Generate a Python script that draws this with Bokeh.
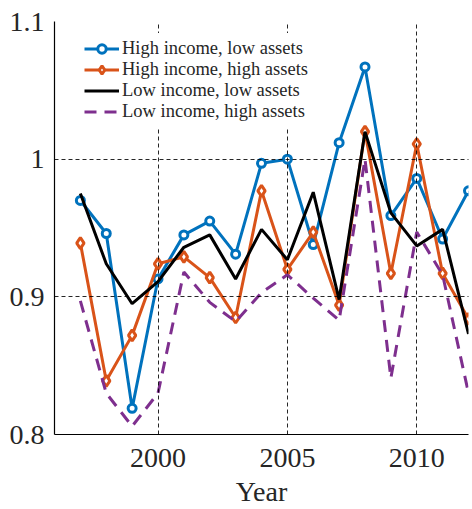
from bokeh.plotting import figure
from bokeh.models import Legend, LegendItem, FixedTicker, Range1d
from bokeh.embed import file_html
from bokeh.resources import INLINE

years = list(range(1997, 2013))
high_inc_low_assets = [0.970, 0.946, 0.819, 0.913, 0.945, 0.955, 0.931, 0.997, 1.000,
                       0.938, 1.012, 1.067, 0.959, 0.986, 0.942, 0.977]
high_inc_high_assets = [0.939, 0.839, 0.872, 0.924, 0.929, 0.914, 0.885, 0.977, 0.920,
                        0.947, 0.894, 1.020, 0.917, 1.011, 0.917, 0.884]
low_inc_low_assets = [0.975, 0.924, 0.895, 0.911, 0.936, 0.945, 0.913, 0.949, 0.927,
                      0.976, 0.898, 1.020, 0.961, 0.937, 0.949, 0.873]
low_inc_high_assets = [0.897, 0.830, 0.806, 0.830, 0.918, 0.896, 0.882, 0.903, 0.916,
                       0.899, 0.883, 1.000, 0.841, 0.947, 0.916, 0.830]

labels = ["High income, low assets", "High income, high assets",
          "Low income, low assets", "Low income, high assets"]
x_ticks = [2000, 2005, 2010]
y_ticks = [0.8, 0.9, 1.0, 1.1]
y_tick_labels = ["0.8", "0.9", "1", "1.1"]
x_label = "Year"

FONT = "Liberation Serif"
BLUE = "#0072BD"
ORANGE = "#D95319"
PURPLE = "#7E2F8E"
TXT = "#262626"

p = figure(width=472, height=509, output_backend="svg", toolbar_location=None,
           x_range=Range1d(1996, 2012), y_range=Range1d(0.8, 1.1),
           min_border_left=54, min_border_right=4, min_border_top=21, min_border_bottom=74)
p.outline_line_color = None
p.background_fill_color = "white"

r_b = p.line(years, high_inc_low_assets, line_color=BLUE, line_width=3)
r_bm = p.scatter(years, high_inc_low_assets, marker="circle", size=8,
                 line_color=BLUE, line_width=3, fill_color="white", fill_alpha=1)
r_o = p.line(years, high_inc_high_assets, line_color=ORANGE, line_width=3)
r_om = p.scatter(years, high_inc_high_assets, marker="diamond", size=11,
                 line_color=ORANGE, line_width=3, fill_color="white", fill_alpha=1)
r_k = p.line(years, low_inc_low_assets, line_color="black", line_width=3)
r_p = p.line(years, low_inc_high_assets, line_color=PURPLE, line_width=3, line_dash="12 8")

# grid
for g in (p.xgrid, p.ygrid):
    g.grid_line_color = "black"
    g.grid_line_width = 1
    g.grid_line_dash = "4 3"
    g.grid_line_alpha = 0.85
    g.level = "overlay"
p.xgrid.ticker = FixedTicker(ticks=x_ticks)
p.ygrid.ticker = FixedTicker(ticks=y_ticks)

# axes
p.xaxis.ticker = FixedTicker(ticks=x_ticks)
p.yaxis.ticker = FixedTicker(ticks=y_ticks)
p.yaxis.major_label_overrides = {v: s for v, s in zip(y_ticks, y_tick_labels)}
for ax in (p.xaxis[0], p.yaxis[0]):
    ax.axis_line_color = "black"
    ax.axis_line_width = 1.2
    ax.major_tick_in = 0
    ax.major_tick_out = 0
    ax.minor_tick_in = 0
    ax.minor_tick_out = 0
    ax.major_label_text_font = FONT
    ax.major_label_text_font_size = "28px"
    ax.major_label_text_color = TXT
p.xaxis.major_label_standoff = 14
p.yaxis.major_label_standoff = 10
p.xaxis.axis_label = x_label
p.xaxis.axis_label_text_font = FONT
p.xaxis.axis_label_text_font_size = "28px"
p.xaxis.axis_label_text_font_style = "normal"
p.xaxis.axis_label_text_color = TXT
p.xaxis.axis_label_standoff = 6

legend = Legend(items=[
    LegendItem(label=labels[0], renderers=[r_b, r_bm]),
    LegendItem(label=labels[1], renderers=[r_o, r_om]),
    LegendItem(label=labels[2], renderers=[r_k]),
    LegendItem(label=labels[3], renderers=[r_p]),
], location=(25, 307))
legend.label_text_font = FONT
legend.label_text_font_size = "18.5px"
legend.label_text_color = TXT
legend.glyph_width = 35
legend.glyph_height = 21
legend.label_height = 21
legend.spacing = 0
legend.padding = 5
legend.label_standoff = 3
legend.border_line_alpha = 0
legend.background_fill_color = "white"
legend.background_fill_alpha = 1
p.add_layout(legend, "center")

open("out.html", "w").write(file_html(p, INLINE))
